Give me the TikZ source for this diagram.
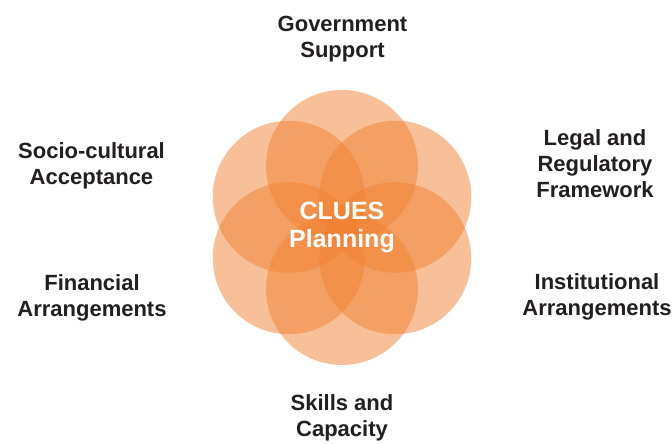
\documentclass[tikz,border=0pt]{standalone}
\usepackage{fontspec}
\setmainfont{Liberation Sans}
\usepackage{tikz}
\usepackage{xcolor}
\definecolor{petal}{RGB}{241,129,49}
\definecolor{labeltext}{RGB}{35,31,32}

\tikzset{
    petalcircle/.style={fill=petal,fill opacity=0.5,draw=none},
    factor/.style={align=center,text=labeltext,font=\bfseries\fontsize{22}{26}\selectfont},
    hub/.style={align=center,text=white,font=\bfseries\fontsize{25}{28}\selectfont}
}

\begin{document}
\begin{tikzpicture}[x=1pt,y=1pt]
    \useasboundingbox (-342,-216.5) rectangle (330,227.5);
    \foreach \ang in {90,150,210,270,330,30}
        \fill[petalcircle] (\ang:61.5) circle (76);
    \node[hub] (clues) at (0,0) {CLUES\\Planning};
    \node[factor] (gov) at (0.5,188.5) {Government\\Support};
    \node[factor] (legal) at (253,63.5) {Legal and\\Regulatory\\Framework};
    \node[factor] (inst) at (255,-69) {Institutional\\Arrangements};
    \node[factor] (skills) at (0,-190.5) {Skills and\\Capacity};
    \node[factor] (fin) at (-250,-70) {Financial\\Arrangements};
    \node[factor] (socio) at (-250.5,61.5) {Socio-cultural\\Acceptance};
\end{tikzpicture}
\end{document}
